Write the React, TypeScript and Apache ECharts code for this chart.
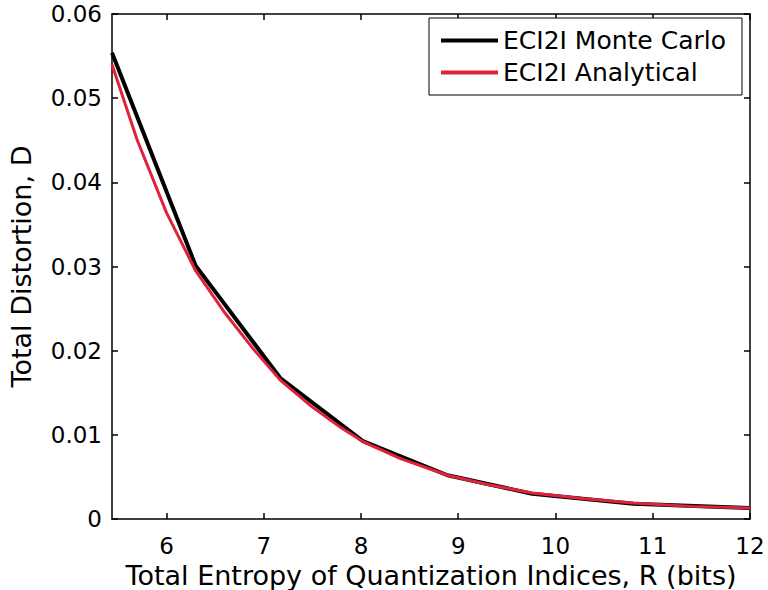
import React, { useEffect, useRef } from "react";
import * as echarts from "echarts";

const xTicks = [6, 7, 8, 9, 10, 11, 12];
const monteCarloR = [5.44, 6.3, 7.17, 8.02, 8.89, 9.76, 10.8, 12.0];
const monteCarloD = [0.0554, 0.0301, 0.01675, 0.00925, 0.0052, 0.003, 0.0018, 0.0013];
const analyticalR = [5.44, 5.7, 6.0, 6.3, 6.6, 6.9, 7.17, 7.5, 7.8, 8.02, 8.4, 8.89, 9.3, 9.76, 10.3, 10.8, 11.4, 12.0];
const analyticalD = [0.054, 0.045, 0.0364, 0.0295, 0.0245, 0.0201, 0.0165, 0.0133, 0.0108, 0.0092, 0.0072, 0.0052, 0.0041, 0.0031, 0.0024, 0.0019, 0.0015, 0.0013];
const seriesNames = ["ECI2I Monte Carlo", "ECI2I Analytical"];

const FONT = "DejaVu Sans, Liberation Sans, Arial, sans-serif";

export default function App() {
  const ref = useRef<HTMLDivElement>(null);
  useEffect(() => {
    if (!ref.current) return;
    const chart = echarts.init(ref.current, null, { renderer: "svg" });
    const mc = monteCarloR.map((r, i) => [r, monteCarloD[i]]);
    const an = analyticalR.map((r, i) => [r, analyticalD[i]]);
    const axisCommon = {
      axisLine: { show: true, onZero: false, lineStyle: { color: "#000", width: 1.5 } },
      splitLine: { show: false },
    };
    const tick = { show: true, inside: true, length: 6, lineStyle: { color: "#000", width: 1.5 } };
    chart.setOption({
      animation: false,
      backgroundColor: "#fff",
      textStyle: { fontFamily: FONT },
      grid: { left: 112, right: 18, top: 14, bottom: 71, containLabel: false, outerBoundsMode: "none" },
      legend: {
        show: true,
        orient: "vertical",
        left: 429,
        top: 18,
        padding: [10, 16, 10, 12],
        itemGap: 7,
        itemWidth: 57,
        itemHeight: 4,
        icon: "rect",
        borderColor: "#000",
        borderWidth: 1,
        backgroundColor: "#fff",
        textStyle: { fontSize: 25, color: "#000", fontFamily: FONT },
        data: seriesNames,
      },
      xAxis: [
        {
          type: "value",
          min: 5.44,
          max: 12,
          position: "bottom",
          ...axisCommon,
          axisTick: { ...tick, customValues: xTicks },
          axisLabel: { customValues: xTicks, fontSize: 23, color: "#000", margin: 15, fontFamily: FONT, showMaxLabel: true },
          name: "Total Entropy of Quantization Indices, R (bits)",
          nameLocation: "middle",
          nameGap: 36,
          nameTextStyle: { fontSize: 27, color: "#000", fontFamily: FONT },
        },
        {
          type: "value",
          min: 5.44,
          max: 12,
          position: "top",
          ...axisCommon,
          axisTick: { ...tick, customValues: xTicks },
          axisLabel: { show: false },
        },
      ],
      yAxis: [
        {
          type: "value",
          min: 0,
          max: 0.06,
          interval: 0.01,
          position: "left",
          ...axisCommon,
          axisTick: tick,
          axisLabel: { fontSize: 23, color: "#000", margin: 10, fontFamily: FONT },
          name: "Total Distortion, D",
          nameLocation: "middle",
          nameGap: 77,
          nameTextStyle: { fontSize: 27, color: "#000", fontFamily: FONT },
        },
        {
          type: "value",
          min: 0,
          max: 0.06,
          interval: 0.01,
          position: "right",
          ...axisCommon,
          axisTick: tick,
          axisLabel: { show: false },
        },
      ],
      series: [
        {
          name: seriesNames[0],
          type: "line",
          data: mc,
          showSymbol: false,
          symbol: "none",
          itemStyle: { color: "#000" },
          lineStyle: { color: "#000", width: 4 },
          z: 2,
        },
        {
          name: seriesNames[1],
          type: "line",
          data: an,
          smooth: false,
          showSymbol: false,
          symbol: "none",
          itemStyle: { color: "#e0233d" },
          lineStyle: { color: "#e0233d", width: 3 },
          z: 3,
        },
      ],
    });
    return () => chart.dispose();
  }, []);
  return (
    <div
      ref={ref}
      style={{ position: "absolute", left: 0, top: 0, width: 768, height: 590 }}
    />
  );
}
